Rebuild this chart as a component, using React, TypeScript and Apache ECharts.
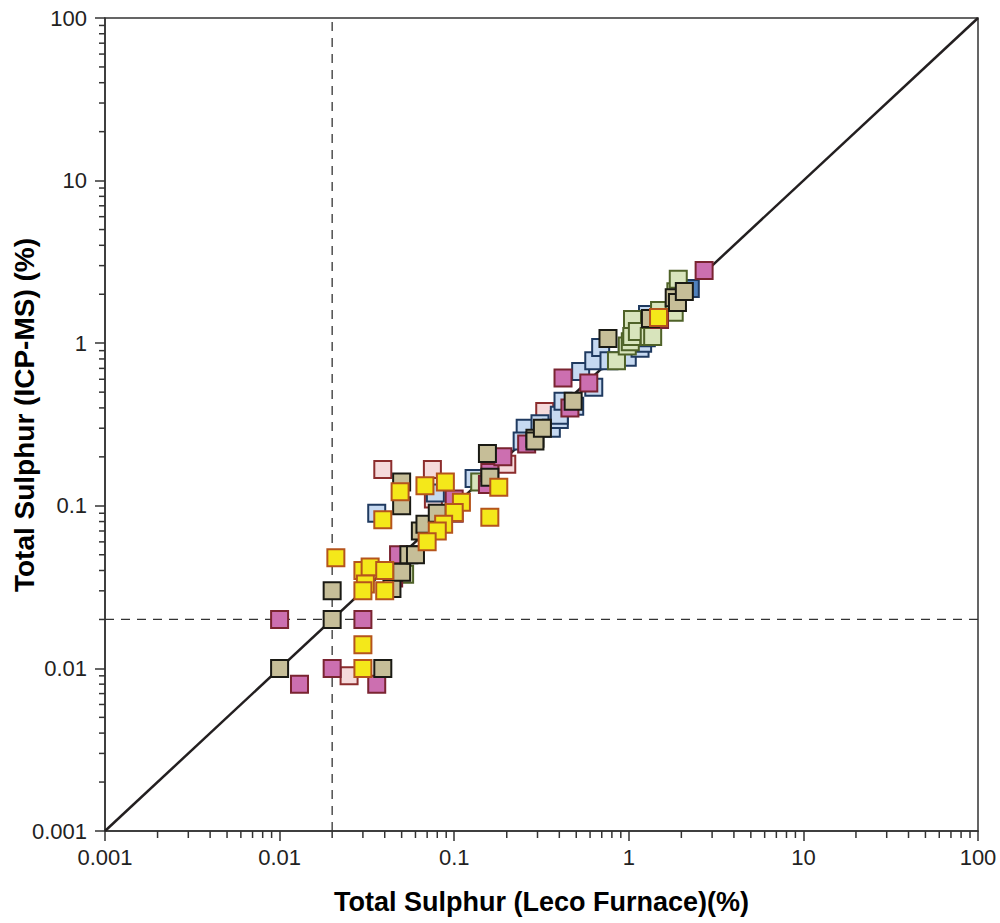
import React, { useEffect, useRef } from "react";
import * as echarts from "echarts";

const FONT = "'Liberation Sans', Arial, sans-serif";

// Tick values (decades) shown on both axes
const decadeTicks = [0.001, 0.01, 0.1, 1, 10, 100];
const minorMultipliers = [2, 3, 4, 5, 6, 7, 8, 9];

// Reference lines
const oneToOne = [
  [0.001, 0.001],
  [100, 100],
];
const detectionLimit = 0.02;

// Data series: [Leco Furnace %, ICP-MS %]
const lightPink = [
  [0.039, 0.167], [0.075, 0.167], [0.025, 0.009], [0.076, 0.11], [0.33, 0.38], [0.2, 0.18],
];
const blue = [
  [0.036, 0.09], [0.13, 0.147], [0.078, 0.12], [0.255, 0.3], [0.245, 0.25], [0.31, 0.32],
  [0.36, 0.3], [0.4, 0.34], [0.4, 0.36], [0.42, 0.44], [0.49, 0.41], [0.53, 0.67],
  [0.63, 0.535], [0.63, 0.78], [0.69, 0.94], [0.77, 0.78], [0.98, 0.82], [1.16, 0.93],
  [1.2, 1.0], [1.26, 1.08], [1.28, 1.5],
];
const darkBlue = [[2.25, 2.17]];
const green = [
  [0.052, 0.038], [0.14, 0.14], [0.85, 0.78], [0.98, 0.96], [1.02, 1.02], [1.04, 1.1],
  [1.05, 1.4], [1.12, 1.18], [1.31, 1.1], [1.37, 1.1], [1.5, 1.59], [1.82, 1.55],
  [1.86, 2.07], [1.92, 2.47],
];
const magenta = [
  [0.01, 0.02], [0.013, 0.008], [0.02, 0.01], [0.03, 0.02], [0.036, 0.008], [0.048, 0.05],
  [0.045, 0.036], [0.1, 0.11], [0.1, 0.09], [0.155, 0.135], [0.16, 0.16], [0.19, 0.2],
  [0.26, 0.24], [0.46, 0.4], [0.42, 0.61], [0.59, 0.57], [1.5, 1.4], [2.7, 2.8],
];
const khaki = [
  [0.01, 0.01], [0.02, 0.02], [0.02, 0.03], [0.039, 0.01], [0.05, 0.14], [0.05, 0.1],
  [0.044, 0.031], [0.05, 0.039], [0.055, 0.05], [0.06, 0.05], [0.064, 0.07], [0.068, 0.077],
  [0.08, 0.09], [0.155, 0.21], [0.16, 0.15], [0.29, 0.26], [0.29, 0.25], [0.32, 0.3],
  [0.48, 0.44], [0.76, 1.07], [1.33, 1.42], [1.82, 1.9], [1.9, 1.78], [2.08, 2.08],
];
const yellow = [
  [0.021, 0.048], [0.03, 0.014], [0.03, 0.01], [0.03, 0.04], [0.033, 0.042], [0.04, 0.04],
  [0.031, 0.033], [0.03, 0.03], [0.04, 0.03], [0.039, 0.082], [0.049, 0.122], [0.068, 0.133],
  [0.089, 0.14], [0.11, 0.105], [0.1, 0.091], [0.087, 0.077], [0.08, 0.07], [0.07, 0.06],
  [0.18, 0.13], [0.16, 0.085], [1.48, 1.44],
];

const fmt = (v: number) => {
  const d = decadeTicks.find((t) => Math.abs(Math.log10(t) - Math.log10(v)) < 1e-6);
  return d === undefined ? "" : String(d);
};

export default function App() {
  const ref = useRef<HTMLDivElement>(null);
  useEffect(() => {
    if (!ref.current) return;
    const chart = echarts.init(ref.current, null, { renderer: "svg" });

    const minorTicks: number[] = [];
    decadeTicks.slice(0, -1).forEach((d) => minorMultipliers.forEach((m) => minorTicks.push(d * m)));

    const scatter = (name: string, data: number[][], fill: string, border: string) => ({
      name,
      type: "scatter",
      z: 5,
      data,
      symbol: "rect",
      symbolSize: 17,
      itemStyle: { color: fill, borderColor: border, borderWidth: 2, opacity: 1 },
      emphasis: { disabled: true },
    });

    const axisCommon = {
      type: "log",
      logBase: 10,
      min: 0.001,
      max: 100,
      axisLine: { show: true, onZero: false, lineStyle: { color: "#333", width: 1.5 } },
      axisTick: { show: true, length: 10, lineStyle: { color: "#333", width: 1.5 } },
      splitLine: { show: false },
      minorTick: { show: false },
      minorSplitLine: { show: false },
    };

    chart.setOption({
      animation: false,
      grid: {
        left: 105,
        right: 22,
        top: 18,
        bottom: 92,
        show: true,
        borderColor: "#333",
        borderWidth: 1.5,
        backgroundColor: "#fff",
      },
      xAxis: {
        ...axisCommon,
        name: "Total Sulphur (Leco Furnace)(%)",
        nameLocation: "middle",
        nameGap: 57,
        nameTextStyle: { fontSize: 27, fontWeight: "bold", color: "#000", fontFamily: FONT },
        axisLabel: { fontSize: 22, margin: 15, color: "#222", fontFamily: FONT, formatter: fmt },
      },
      yAxis: {
        ...axisCommon,
        axisLabel: { fontSize: 22, margin: 18, color: "#222", fontFamily: FONT, formatter: fmt },
      },
      graphic: [
        {
          type: "text",
          x: 24,
          y: 415,
          rotation: Math.PI / 2,
          style: {
            text: "Total Sulphur (ICP-MS) (%)",
            font: `bold 28px ${FONT}`,
            fill: "#000",
            align: "center",
            verticalAlign: "middle",
            textAlign: "center",
            textVerticalAlign: "middle",
          },
        },
      ],
      series: [
        {
          type: "custom",
          clip: false,
          silent: true,
          z: 1,
          data: minorTicks.map((v) => [v]),
          renderItem: (_p: any, api: any) => {
            const v = api.value(0);
            const px = api.coord([v, 0.001]);
            const py = api.coord([0.001, v]);
            return {
              type: "group",
              children: [
                {
                  type: "line",
                  shape: { x1: px[0], y1: px[1], x2: px[0], y2: px[1] + 7 },
                  style: { stroke: "#333", lineWidth: 1.5 },
                },
                {
                  type: "line",
                  shape: { x1: py[0], y1: py[1], x2: py[0] - 6, y2: py[1] },
                  style: { stroke: "#333", lineWidth: 1.5 },
                },
              ],
            };
          },
        },
        {
          type: "line",
          z: 1,
          data: oneToOne,
          showSymbol: false,
          silent: true,
          lineStyle: { color: "#231f20", width: 2.5 },
        },
        {
          type: "line",
          z: 1,
          data: [[detectionLimit, 0.001], [detectionLimit, 100]],
          showSymbol: false,
          silent: true,
          lineStyle: { color: "#333", width: 1.3, type: [9, 7] },
        },
        {
          type: "line",
          z: 1,
          data: [[0.001, detectionLimit], [100, detectionLimit]],
          showSymbol: false,
          silent: true,
          lineStyle: { color: "#333", width: 1.3, type: [9, 7] },
        },
        scatter("lightPink", lightPink, "#f5dadb", "#8c2d2d"),
        scatter("blue", blue, "#c6d9f1", "#1f3a60"),
        scatter("darkBlue", darkBlue, "#4f81bd", "#1f3a60"),
        scatter("green", green, "#d8e4bc", "#4f6228"),
        scatter("magenta", magenta, "#cc6fb0", "#7a2431"),
        scatter("khaki", khaki, "#c6be98", "#1a1a14"),
        scatter("yellow", yellow, "#f4e81a", "#b5541c"),
      ],
    });
    return () => chart.dispose();
  }, []);
  return (
    <div
      ref={ref}
      style={{ position: "absolute", left: 0, top: 0, width: 1000, height: 923, background: "#fff" }}
    />
  );
}
